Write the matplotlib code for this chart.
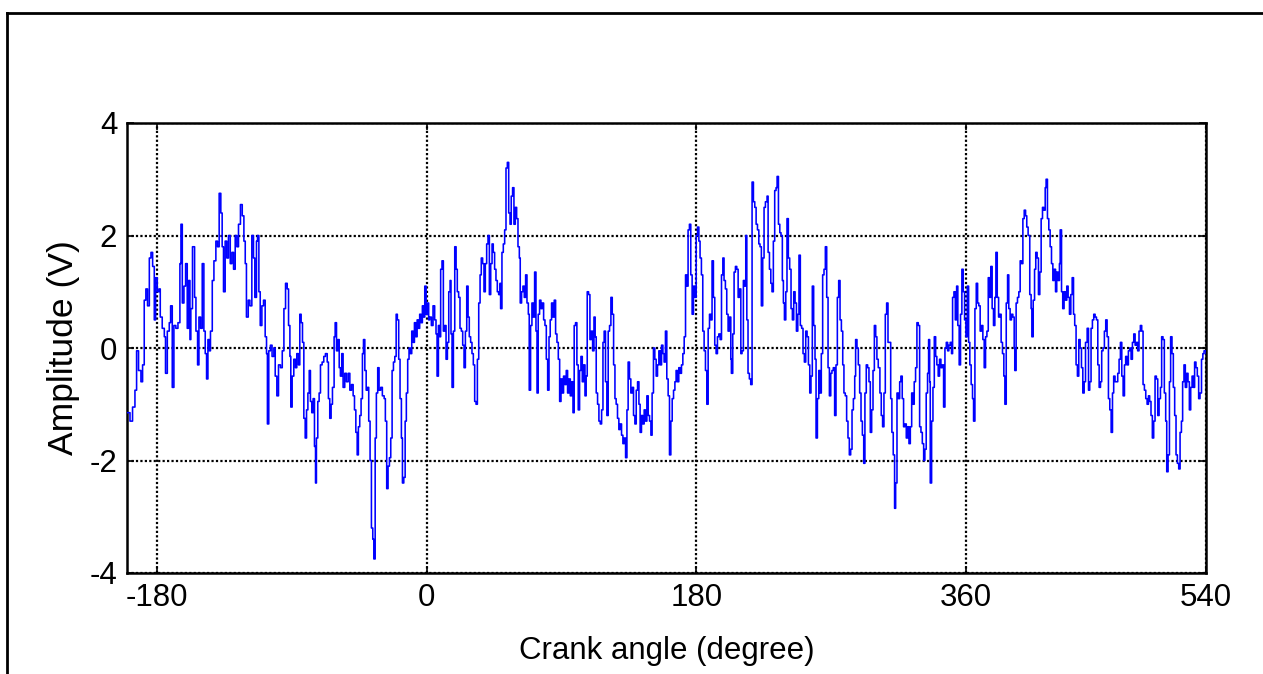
import matplotlib
matplotlib.use("Agg")
import matplotlib.pyplot as plt
from matplotlib import font_manager
from matplotlib.lines import Line2D

# Crank angle (degree) of each sample
crank_angle = [
    -200.0, -198.0, -196.3, -194.7, -193.6, -192.3, -190.7, -189.6, -188.5, -187.4,
    -186.3, -185.1, -184.0, -182.9, -181.8, -180.9, -179.8, -178.7, -177.8, -176.5,
    -175.1, -174.3, -173.1, -171.8, -170.9, -169.8, -168.7, -167.4, -166.0, -164.7,
    -164.0, -163.1, -162.0, -160.9, -159.8, -158.9, -158.0, -157.4, -156.3, -154.9,
    -154.0, -152.9, -152.0, -150.9, -149.8, -148.7, -147.8, -146.9, -146.0, -145.1,
    -144.3, -143.1, -142.0, -140.7, -139.6, -138.5, -137.4, -136.5, -135.6, -134.5,
    -133.4, -132.3, -131.1, -130.0, -128.9, -127.8, -126.7, -125.6, -124.3, -123.1,
    -122.0, -121.1, -120.3, -119.1, -118.0, -116.7, -115.6, -114.7, -113.6, -112.9,
    -112.0, -111.1, -110.0, -108.9, -107.8, -106.9, -106.3, -105.4, -104.3, -103.2,
    -102.0, -101.1, -100.0, -98.9,
    -97.6, -96.4, -95.3, -94.2, -93.1, -92.2, -91.3, -90.7, -89.8, -88.7,
    -87.6, -86.7, -85.6, -84.7, -83.8, -82.9, -82.0, -81.1, -80.2, -79.3,
    -78.4, -77.6, -76.7, -75.8, -74.9, -74.2, -73.6, -72.7, -71.8, -70.9,
    -69.8, -68.7, -67.6, -66.4, -65.6, -64.7, -63.8, -62.9, -61.8, -61.1,
    -60.2, -59.3, -58.4, -57.6, -56.7, -55.8, -54.7, -53.6, -52.4, -51.3,
    -50.2, -49.1, -48.2, -47.3, -46.4, -45.6, -44.7, -43.8, -42.9, -42.2,
    -41.3, -40.4, -39.6, -38.7, -37.8, -36.9, -36.0, -35.3, -34.4, -33.6,
    -32.7, -31.8, -30.7, -29.6, -28.4, -27.6, -26.7, -25.8, -24.9, -24.0,
    -23.1, -22.2, -21.3, -20.4, -19.6, -18.7, -17.8, -16.9, -16.2, -15.3,
    -14.4, -13.6, -12.7, -11.8, -10.9, -10.0, -9.1, -8.2, -7.3, -6.4,
    -5.6, -4.7, -3.8, -2.9, -2.0, -1.3, -0.4, 0.5, 1.3,
    2.0, 3.1, 4.2, 5.3, 6.2, 6.9, 7.8, 8.7, 9.3, 10.2,
    11.1, 12.0, 12.9, 13.8, 14.7, 15.6, 16.2, 16.9, 17.8, 18.7,
    19.6, 20.4, 21.3, 22.2, 23.1, 24.0, 24.9, 25.8, 26.7, 27.6,
    28.4, 29.3, 30.2, 31.1, 32.0, 32.9, 33.8, 34.7, 35.6, 36.4,
    37.3, 38.2, 39.1, 40.0, 40.9, 41.8, 42.7, 43.6, 44.4, 45.3,
    46.2, 47.1, 48.0, 48.9, 49.3, 50.2, 51.1, 52.0, 52.9, 53.8,
    54.7, 55.6, 56.4, 57.3, 58.2, 59.1, 60.0, 60.9, 61.8, 62.4,
    63.3, 64.2, 65.1, 66.0, 66.9, 67.8, 68.4, 69.3, 70.2, 71.1,
    72.0, 72.9, 73.6, 74.4, 75.3, 76.2, 77.1, 78.0, 78.9, 79.8,
    80.7, 81.6, 82.4, 83.3, 84.2, 85.1, 86.0, 86.9, 87.8, 88.7,
    89.6, 90.4, 91.3, 92.2, 93.1, 94.0, 94.9, 95.8, 96.7, 97.6,
    98.4, 99.3, 100.2, 101.1,
    102.0, 102.9, 103.8, 104.7, 105.6, 106.4, 107.1, 108.0, 108.9, 109.8,
    110.7, 111.6, 112.4, 113.1, 114.0, 114.9, 115.8, 116.7, 117.6, 118.4,
    119.3, 120.2, 121.1, 122.0, 122.9, 123.8, 124.7, 125.6, 126.4, 127.3,
    128.2, 129.1, 130.0, 130.9, 131.8, 132.7, 133.6, 134.4, 135.3, 136.2,
    137.1, 138.0, 138.9, 139.8, 140.7, 141.6, 142.4, 143.3, 144.2, 145.1,
    146.0, 146.9, 147.8, 148.7, 149.6, 150.4, 151.3, 152.2, 153.1, 154.0,
    154.9, 155.8, 156.7, 157.6, 158.4, 159.3, 160.2, 161.1, 162.0, 162.9,
    163.8, 164.7, 165.6, 166.4, 167.3, 168.2, 169.1, 170.0, 170.9, 171.8,
    172.7, 173.6, 174.4, 175.3, 176.2, 177.1, 178.0, 178.9, 179.8, 180.7,
    181.6, 182.4, 183.3, 184.2, 185.1, 186.0, 186.9, 187.8, 188.7, 189.6,
    190.4, 191.3, 192.2, 193.1, 194.0, 194.9, 195.8, 196.7, 197.6, 198.4,
    199.3, 200.2, 201.1,
    202.0, 202.9, 203.3, 204.2, 205.1, 206.0, 206.9, 207.8, 208.7, 209.6,
    210.4, 211.3, 212.2, 212.9, 213.6, 214.4, 215.3, 216.2, 217.1, 218.0,
    218.9, 219.8, 220.7, 221.6, 222.4, 223.3, 224.2, 225.1, 226.0, 227.1,
    227.8, 228.7, 229.6, 230.4, 231.3, 232.2, 233.1, 233.8, 234.7, 235.6,
    236.4, 237.3, 238.0, 238.7, 239.6, 240.4, 241.3, 242.2, 243.1, 244.0,
    244.9, 245.8, 246.7, 247.6, 248.4, 249.3, 250.2, 251.1, 252.0, 252.9,
    253.8, 254.7, 255.6, 256.4, 257.3, 258.2, 259.1, 259.8, 260.7, 261.6,
    262.4, 263.3, 264.2, 265.1, 266.0, 266.9, 267.8, 268.7, 269.6, 270.4,
    271.3, 272.2, 273.1, 274.0, 274.9, 275.8, 276.7, 277.6, 278.4, 279.3,
    280.2, 281.1, 282.0, 282.9, 283.8, 284.7, 285.6, 286.2, 287.1, 288.0,
    288.9, 289.8, 290.7, 291.6, 292.4, 293.3, 294.2, 295.1, 296.0, 296.9,
    297.8, 298.7, 299.6, 300.4, 301.3,
    302.4, 303.3, 304.2, 305.1, 306.0, 306.9, 307.8, 308.7, 309.6, 310.4,
    311.3, 312.2, 312.9, 313.8, 314.7, 315.6, 316.4, 317.3, 318.2, 319.1,
    320.0, 320.9, 321.8, 322.7, 323.6, 324.4, 325.3, 326.2, 327.1, 328.0,
    328.9, 329.8, 330.7, 331.6, 332.4, 333.3, 334.2, 334.9, 335.6, 336.0,
    336.9, 337.8, 338.7, 339.6, 340.4, 341.3, 342.2, 343.1, 344.0, 344.9,
    345.8, 346.7, 347.6, 348.4, 349.3, 350.2, 350.9, 351.8, 352.7, 353.6,
    354.4, 355.3, 356.2, 357.1, 358.0, 358.9, 359.8, 360.7, 361.6, 362.4,
    363.3, 364.2, 364.9, 365.8, 366.7, 367.6, 368.4, 369.3, 370.2, 371.1,
    372.0, 372.9, 373.8, 374.7, 375.6, 376.4, 377.3, 378.2, 379.1, 379.8,
    380.7, 381.6, 382.4, 383.3, 384.2, 385.1, 385.8, 386.7, 387.6, 388.4,
    389.3, 390.2, 391.1, 392.0, 392.4, 393.3, 394.2, 395.1, 396.0, 396.9,
    397.8, 398.7, 399.6, 400.4, 401.3,
    402.4, 403.3, 403.8, 404.7, 405.6, 406.4, 407.3, 408.2, 409.1, 410.0,
    410.9, 411.8, 412.7, 413.3, 414.2, 415.1, 416.0, 416.9, 417.8, 418.7,
    419.6, 420.4, 421.3, 422.2, 422.7, 423.6, 424.4, 425.3, 426.2, 427.1,
    428.0, 428.9, 429.8, 430.7, 431.6, 432.4, 433.3, 434.2, 435.1, 436.0,
    436.9, 437.8, 438.7, 439.6, 440.7, 441.6, 442.4, 443.3, 444.2, 445.1,
    446.0, 446.9, 447.8, 448.7, 449.6, 450.4, 451.3, 452.2, 453.1, 454.0,
    454.9, 455.8, 456.7, 457.6, 458.4, 459.3, 460.2, 461.1, 462.0, 462.9,
    463.8, 464.7, 465.6, 466.4, 467.3, 468.2, 469.1, 470.0, 470.9, 471.8,
    472.7, 473.6, 474.4, 475.3, 476.2, 477.1, 478.0, 478.9, 479.8, 480.7,
    481.6, 482.4, 483.3, 484.2, 485.1, 486.0, 486.9, 487.8, 488.7, 489.6,
    490.4, 491.3, 492.2, 493.1, 493.8, 494.7, 495.6, 496.4, 497.3, 498.2,
    499.1, 500.0, 500.9, 501.8, 502.7, 503.6, 504.4, 505.3, 506.2, 507.1,
    508.0, 508.9, 509.8, 510.7, 511.6, 512.4, 513.3, 514.2, 515.1, 516.0,
    517.0, 517.9, 518.7, 520.0,
]

# Sensor output (V) at each crank angle
amplitude = [
    -1.15, -1.3, -1.05, -0.75, -0.05, -0.4, -0.6, -0.3, 0.85, 1.05,
    0.75, 1.6, 1.7, 1.45, 0.5, 1.25, 1.0, 1.05, 0.55, 0.35,
    0.2, -0.45, 0.3, 0.45, 0.75, -0.7, 0.4, 0.35, 0.45, 1.5,
    2.2, 0.8, 1.1, 1.5, 0.35, 1.2, 0.15, 0.7, 1.8, 0.9,
    0.3, -0.3, 0.55, 0.35, 1.5, 0.3, -0.1, -0.55, 0.15, -0.05,
    0.3, 1.2, 1.55, 1.9, 1.8, 2.75, 2.4, 1.8, 1.0, 1.9,
    1.6, 2.0, 1.5, 1.7, 1.4, 2.0, 1.8, 2.2, 2.55, 2.35,
    1.9, 1.5, 0.55, 0.85, 0.75, 2.0, 1.6, 0.9, 1.9, 2.0,
    1.0, 0.4, 0.75, 0.85, 0.2, -0.1, -1.35, -0.05, 0.05, -0.15,
    0.0, -0.5, -0.85, -0.3,
    -0.35, -0.05, 0.7, 1.15, 1.05, 0.4, -0.15, -1.05, -0.5, -0.2,
    -0.35, -0.1, -0.3, 0.6, 0.45, 0.1, -1.25, -1.6, -1.1, -0.8,
    -0.4, -0.95, -1.15, -0.9, -1.75, -2.4, -1.6, -0.95, -0.8, -0.3,
    -0.25, -0.15, -0.1, -0.25, -0.9, -1.25, -1.0, -0.7, 0.2, 0.45,
    -0.05, 0.15, -0.35, -0.5, -0.1, -0.7, -0.45, -0.6, -0.45, -0.75,
    -0.65, -0.85, -1.1, -1.5, -1.9, -1.4, -1.2, -0.9, -0.1, 0.15,
    -0.4, -0.75, -0.7, -1.3, -2.0, -3.2, -3.4, -3.75, -1.6, -0.8,
    -0.35, -0.75, -0.7, -0.85, -0.9, -1.3, -2.5, -2.1, -1.95, -1.6,
    -0.4, -0.25, -0.15, 0.6, 0.5, -0.2, -0.9, -1.6, -2.4, -2.3,
    -1.3, -0.8, -0.2, 0.0, -0.1, 0.3, 0.1, 0.45, 0.2, 0.5,
    0.35, 0.6, 0.45, 0.75, 0.55, 1.1, 0.6, 0.8, 0.5,
    0.55, 0.4, 0.75, 0.5, 0.25, -0.5, 0.4, 0.2, 1.4, 1.55,
    0.3, 0.4, -0.2, 0.1, 1.0, 1.2, 0.25, -0.7, 0.3, 1.8,
    1.4, 1.0, 0.9, 0.35, 0.3, 0.05, -0.35, 0.3, 1.1, 0.55,
    0.2, 0.1, -0.1, -0.3, -0.95, -1.0, -0.2, 0.8, 1.3, 1.6,
    1.5, 1.0, 1.5, 1.85, 2.0, 0.95, 1.5, 1.85, 1.7, 1.4,
    1.2, 1.0, 0.95, 1.15, 0.7, 1.7, 1.85, 2.1, 3.2, 3.3,
    2.4, 2.2, 2.7, 2.85, 2.2, 2.5, 2.3, 1.8, 1.6, 0.8,
    1.0, 1.1, 0.9, 1.3, 0.8, 0.6, -0.75, 0.4, 0.8, 0.55,
    1.35, 0.3, -0.8, 0.6, 0.85, 0.7, 0.8, 0.5, 0.4, -0.2,
    -0.75, 0.2, 0.5, 0.8, 0.55, 0.85, 0.25, 0.1, -0.2, -0.95,
    -0.55, -0.8, -0.5, -0.65, -0.4, -0.8, -0.55, -0.85, -0.6, -1.15,
    0.4, 0.45, -0.3, -1.1,
    -0.4, -0.15, -0.6, -0.3, -0.85, -0.5, 1.0, 0.95, 0.15, 0.3,
    -0.05, 0.55, 0.2, -0.8, -1.0, -1.3, -1.35, -1.1, 0.1, 0.3,
    -0.6, -1.2, 0.3, 0.4, 0.9, 0.6, -0.3, -0.9, -1.0, -1.25,
    -1.45, -1.35, -1.55, -1.7, -1.6, -1.95, -1.1, -0.25, -0.55, -0.8,
    -0.7, -1.2, -1.35, -0.75, -0.6, -1.0, -1.5, -1.2, -1.35, -1.1,
    -1.3, -0.85, -1.2, -1.3, -1.55, -0.8, 0.0, -0.2, -0.5, -0.3,
    -0.05, -0.3, 0.05, -0.1, -0.25, 0.3, -0.55, -0.85, -1.9, -1.3,
    -0.9, -0.75, -0.6, -0.4, -0.6, -0.35, -0.45, -0.3, -0.1, 0.2,
    1.3, 1.1, 2.1, 2.2, 1.3, 0.6, 1.1, 0.9, 2.0, 2.15,
    1.9, 1.6, 1.3, 0.3, -0.05, -0.4, -1.0, 0.35, 0.6, 0.5,
    1.55, 0.9, 0.05, -0.1, 0.2, 0.25, 0.15, 1.3, 1.6, 1.2,
    1.05, 0.6, 0.3,
    0.55, -0.2, -0.45, 0.25, 1.35, 1.45, 1.4, 0.9, 1.05, -0.1,
    -0.05, 1.2, 1.1, 2.0, 0.5, -0.45, -0.55, -0.65, 2.95, 2.6,
    2.5, 2.2, 2.1, 1.85, 1.8, 0.75, 1.6, 2.5, 2.6, 2.7,
    1.7, 1.4, 1.15, 1.0, 1.9, 2.8, 2.85, 3.05, 2.2, 2.05,
    2.0, 1.2, 0.8, 0.5, 1.0, 2.3, 1.6, 1.4, 0.7, 0.5,
    1.0, 0.8, 0.3, 0.6, 1.65, 0.4, 0.35, -0.1, -0.25, 0.3,
    0.2, -0.3, -0.8, -0.5, 1.1, 0.4, -0.2, -1.6, -0.9, -0.4,
    -0.8, -0.1, 1.3, 1.4, 1.8, 0.9, -0.35, -0.85, -0.45, -0.4,
    -0.35, -1.2, -0.3, 0.9, 1.2, 0.5, 0.3, -0.3, -0.8, -0.85,
    -1.3, -1.6, -1.9, -1.8, -1.1, -0.9, -0.5, 0.15, 0.0, -0.3,
    -0.8, -1.3, -1.55, -2.05, -0.8, -0.3, -0.35, -0.6, -1.5, -1.1,
    -0.4, 0.4, 0.2, -0.2, -0.35,
    -0.8, -1.2, -1.4, -0.8, 0.6, 0.8, 0.1, 0.1, -0.9, -1.5,
    -1.9, -2.85, -2.4, -0.8, -0.9, -0.6, -0.5, -0.9, -1.4, -1.35,
    -1.6, -1.4, -1.7, -1.4, -0.8, -1.0, -0.6, -0.35, 0.45, 0.4,
    -1.4, -1.5, -1.7, -2.0, -1.8, -0.8, -0.45, 0.15, -0.6, -2.4,
    -1.3, -0.7, 0.2, -0.15, -0.3, -0.5, -0.2, -0.35, -0.3, -1.05,
    0.0, 0.1, -0.05, 0.05, 0.1, -0.1, 0.9, 1.0, 0.5, 1.1,
    0.4, -0.3, 0.6, 1.4, 1.0, 0.5, 0.2, 1.1, 0.1, -0.3,
    -0.65, -0.9, -1.3, 0.7, 1.15, 0.8, 0.75, 0.3, 0.4, 0.15,
    -0.35, 0.2, 0.3, 1.25, 0.9, 1.45, 0.7, 0.4, 0.9, 1.7,
    0.9, 0.55, 0.6, 0.1, -0.1, -0.5, -1.0, 0.8, 1.3, 0.7,
    0.5, 0.6, 0.55, 0.0, -0.4, 0.8, 0.9, 1.0, 1.55, 1.5,
    2.3, 2.45, 2.35, 2.15, 2.0,
    0.95, 0.7, 0.2, 0.85, 1.4, 1.7, 1.6, 0.95, 1.35, 2.3,
    2.5, 2.45, 2.85, 3.0, 2.3, 2.1, 1.8, 1.5, 1.2, 1.4,
    1.0, 1.35, 1.2, 1.5, 2.1, 1.0, 0.7, 1.0, 0.85, 1.1,
    0.9, 0.6, 0.95, 1.25, 0.6, 0.4, -0.3, -0.5, 0.15, 0.0,
    -0.35, -0.8, -0.6, 0.1, 0.35, -0.75, -0.6, 0.35, 0.5, 0.6,
    0.55, 0.5, -0.3, -0.7, -0.6, -0.05, 0.0, 0.3, 0.5, 0.2,
    -0.9, -1.1, -1.5, -0.8, -0.5, -0.6, -0.6, -0.45, -0.2, 0.1,
    -0.5, -0.85, -0.3, -0.15, -0.3, -0.05, 0.0, -0.2, 0.1, 0.25,
    0.05, 0.1, -0.05, 0.3, 0.4, 0.3, -0.65, -0.75, -0.9, -1.0,
    -0.85, -0.95, -1.2, -1.6, -1.3, -0.5, -0.55, -1.2, -0.9, -0.7,
    0.2, 0.15, -0.8, -1.3, -2.2, -1.9, -0.6, 0.2, -0.1, -0.7,
    -1.2, -1.9, -2.05, -2.15, -1.5, -1.3, -0.6, -0.3, -0.7, -0.45,
    -0.6, -1.1, -0.7, -0.5, -0.7, -0.25, -0.35, -0.5, -0.9, -0.8,
    -0.2, -0.1, -0.05, -0.1,
]

assert len(crank_angle) == len(amplitude), (len(crank_angle), len(amplitude))

x_ticks = [-180, 0, 180, 360, 520]
x_tick_labels = ["-180", "0", "180", "360", "540"]
y_ticks = [-4, -2, 0, 2, 4]
y_tick_labels = ["-4", "-2", "0", "2", "4"]

W, H = 1263, 674
available = {f.name for f in font_manager.fontManager.ttflist}
if "Liberation Sans Narrow" in available:
    narrow = {"family": "Liberation Sans Narrow", "size": 26}
else:
    narrow = {"family": "Liberation Sans", "size": 22.5}
regular = {"family": "Liberation Sans", "size": 25.5}

fig = plt.figure(figsize=(W / 100, H / 100), dpi=100)
fig.patch.set_facecolor("white")

# page frame (open at the bottom)
fig.add_artist(Line2D([7 / W, 7 / W], [0, 1 - 13 / H], transform=fig.transFigure,
                      color="black", lw=2.0, solid_capstyle="projecting"))
fig.add_artist(Line2D([7 / W, 1], [1 - 13 / H, 1 - 13 / H], transform=fig.transFigure,
                      color="black", lw=2.0, solid_capstyle="projecting"))

left, right, top, bottom = 127, 1206, 123, 573
ax = fig.add_axes([left / W, 1 - bottom / H, (right - left) / W, (bottom - top) / H])

ax.plot(crank_angle, amplitude, color="#0000ff", lw=1.15, drawstyle="steps-post",
        zorder=3)

ax.set_xlim(-200, 520)
ax.set_ylim(-4, 4)
ax.set_xticks(x_ticks)
ax.set_xticklabels(x_tick_labels, fontdict=narrow)
ax.set_yticks(y_ticks)
ax.set_yticklabels(y_tick_labels, fontdict=narrow)

ax.grid(True, color="black", linestyle=(0, (1.0, 1.0)), linewidth=1.6, zorder=1)
ax.set_axisbelow(True)
ax.tick_params(direction="in", length=5, width=1.2, top=True, right=True,
               colors="black", pad=7)
for spine in ax.spines.values():
    spine.set_linewidth(1.8)
    spine.set_color("black")

ax.set_xlabel("Crank angle (degree)", fontdict=narrow)
ax.xaxis.label.set_va("center")
ax.xaxis.set_label_coords(0.5, -(651 - bottom) / (bottom - top))

ax.set_ylabel("Amplitude (V)", fontdict=regular)
ax.yaxis.label.set_va("center")
ax.yaxis.set_label_coords(-(left - 63) / (right - left), 0.5)

fig.savefig("out.png", dpi=100, facecolor="white")
